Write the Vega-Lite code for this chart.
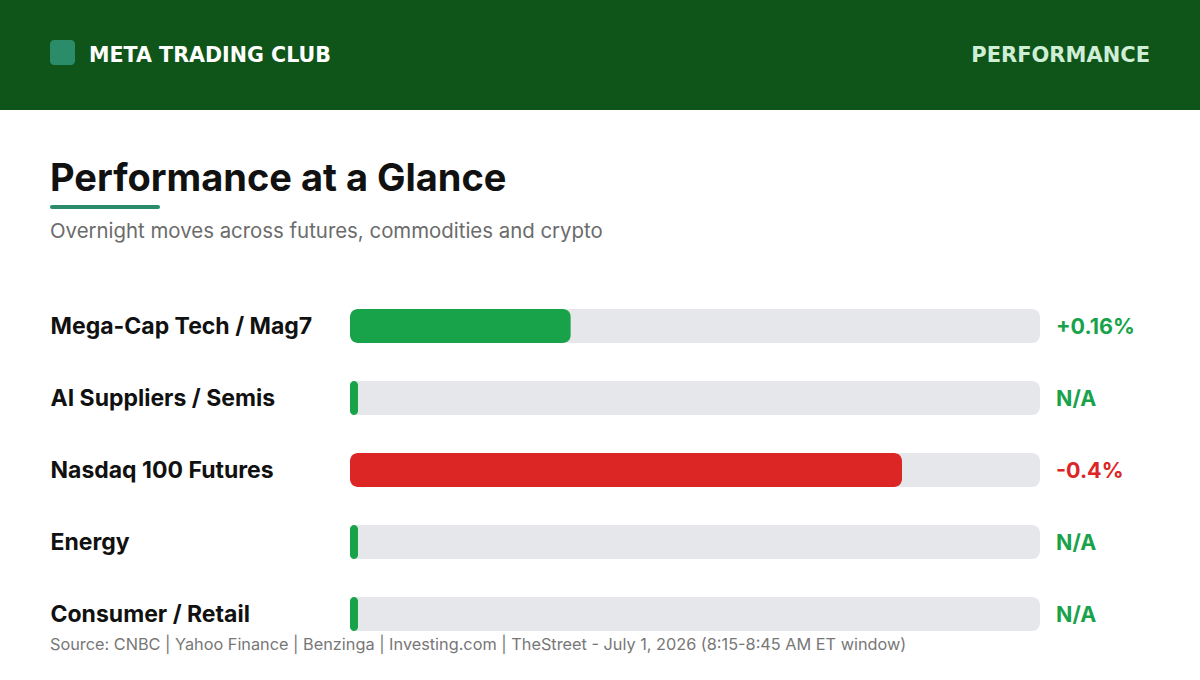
{
  "$schema": "https://vega.github.io/schema/vega-lite/v6.json",
  "width": 1200,
  "height": 680,
  "autosize": {"type": "fit", "contains": "padding"},
  "padding": 0,
  "background": "#ffffff",
  "config": {"view": {"stroke": null}, "font": "Inter"},
  "datasets": {
    "rows": [
      {"sector": "Mega-Cap Tech / Mag7", "magnitude": 0.16, "dir": "up", "label": "+0.16%"},
      {"sector": "AI Suppliers / Semis", "magnitude": null, "dir": "na", "label": "N/A"},
      {"sector": "Nasdaq 100 Futures", "magnitude": 0.4, "dir": "down", "label": "-0.4%"},
      {"sector": "Energy", "magnitude": null, "dir": "na", "label": "N/A"},
      {"sector": "Consumer / Retail", "magnitude": null, "dir": "na", "label": "N/A"}
    ]
  },
  "layer": [
    {
      "data": {"values": [{}]},
      "mark": {"type": "rect", "color": "#0f5519"},
      "encoding": {"x": {"value": 0}, "x2": {"value": 1200}, "y": {"value": 0}, "y2": {"value": 110}}
    },
    {
      "data": {"values": [{}]},
      "mark": {"type": "rect", "color": "#2a8c68", "cornerRadius": 4},
      "encoding": {"x": {"value": 50}, "x2": {"value": 75}, "y": {"value": 40}, "y2": {"value": 65}}
    },
    {
      "data": {"values": [{"t": "META TRADING CLUB"}]},
      "mark": {"type": "text", "font": "DejaVu Sans", "fontSize": 20.6, "fontWeight": "bold", "color": "#ffffff", "align": "left", "baseline": "alphabetic"},
      "encoding": {"x": {"value": 89}, "y": {"value": 62}, "text": {"field": "t"}}
    },
    {
      "data": {"values": [{"t": "PERFORMANCE"}]},
      "mark": {"type": "text", "font": "DejaVu Sans", "fontSize": 21, "fontWeight": "bold", "color": "#cfeed6", "align": "right", "baseline": "alphabetic"},
      "encoding": {"x": {"value": 1150}, "y": {"value": 62}, "text": {"field": "t"}}
    },
    {
      "data": {"values": [{"t": "Performance at a Glance"}]},
      "mark": {"type": "text", "font": "Inter", "fontSize": 38, "fontWeight": "bold", "color": "#111111", "align": "left", "baseline": "alphabetic"},
      "encoding": {"x": {"value": 50}, "y": {"value": 191}, "text": {"field": "t"}}
    },
    {
      "data": {"values": [{}]},
      "mark": {"type": "rect", "color": "#2a8c68", "cornerRadius": 2},
      "encoding": {"x": {"value": 50}, "x2": {"value": 160}, "y": {"value": 205}, "y2": {"value": 209}}
    },
    {
      "data": {"values": [{"t": "Overnight moves across futures, commodities and crypto"}]},
      "mark": {"type": "text", "font": "Inter", "fontSize": 20.4, "color": "#6b6b6b", "align": "left", "baseline": "alphabetic"},
      "encoding": {"x": {"value": 50}, "y": {"value": 238}, "text": {"field": "t"}}
    },
    {
      "data": {"values": [{"t": "Source: CNBC | Yahoo Finance | Benzinga | Investing.com | TheStreet - July 1, 2026 (8:15-8:45 AM ET window)"}]},
      "mark": {"type": "text", "font": "Inter", "fontSize": 16.3, "color": "#777777", "align": "left", "baseline": "alphabetic"},
      "encoding": {"x": {"value": 50}, "y": {"value": 650}, "text": {"field": "t"}}
    },
    {
      "data": {"name": "rows"},
      "mark": {"type": "bar", "color": "#e5e7eb", "cornerRadius": 8, "size": 34},
      "encoding": {
        "y": {"field": "sector", "type": "nominal", "sort": null,
          "scale": {"range": [290, 650], "paddingInner": 0, "paddingOuter": 0},
          "axis": {"orient": "left", "offset": -50, "labelAlign": "left", "labelPadding": 0, "ticks": false, "tickSize": 0, "domain": false, "grid": false, "title": null, "labelFont": "Inter", "labelFontSize": 23, "labelFontWeight": "bold", "labelColor": "#111111", "labelBaseline": "middle", "labelLimit": 0, "labelOffset": 1}},
        "x": {"datum": 0.5, "type": "quantitative", "scale": {"domain": [0, 0.5], "range": [350, 1040], "nice": false}, "axis": null}
      }
    },
    {
      "data": {"name": "rows"},
      "transform": [{"filter": "datum.magnitude != null"}],
      "mark": {"type": "bar", "cornerRadius": 8, "size": 34},
      "encoding": {
        "y": {"field": "sector", "type": "nominal", "sort": null},
        "x": {"field": "magnitude", "type": "quantitative"},
        "color": {"field": "dir", "type": "nominal", "scale": {"domain": ["up", "down", "na"], "range": ["#18a34a", "#dc2626", "#18a34a"]}, "legend": null}
      }
    },
    {
      "data": {"name": "rows"},
      "transform": [{"filter": "datum.magnitude == null"}],
      "mark": {"type": "tick", "thickness": 8, "size": 34, "cornerRadius": 4, "xOffset": 4, "opacity": 1},
      "encoding": {
        "y": {"field": "sector", "type": "nominal", "sort": null},
        "x": {"datum": 0, "type": "quantitative"},
        "color": {"field": "dir", "type": "nominal"}
      }
    },
    {
      "data": {"name": "rows"},
      "mark": {"type": "text", "font": "Inter", "fontSize": 21.5, "fontWeight": "bold", "align": "left", "baseline": "middle", "dx": 16, "dy": 1.5},
      "encoding": {
        "y": {"field": "sector", "type": "nominal", "sort": null},
        "x": {"datum": 0.5, "type": "quantitative"},
        "text": {"field": "label"},
        "color": {"field": "dir", "type": "nominal"}
      }
    }
  ]
}
